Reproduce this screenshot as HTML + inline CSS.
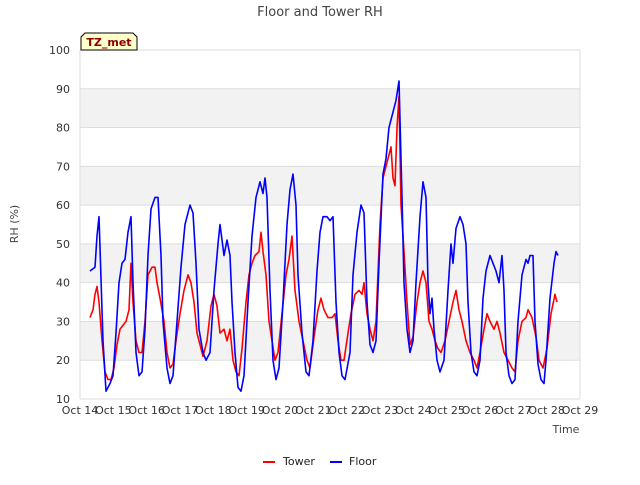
<!DOCTYPE html>
<html><head><meta charset="utf-8"><style>
body{margin:0;background:#fff;font-family:"Liberation Sans","DejaVu Sans",sans-serif}
svg text{font-family:"DejaVu Sans","Liberation Sans",sans-serif}
</style></head><body>
<svg id="c" width="640" height="480">
<text x="320" y="16" text-anchor="middle" font-size="13" fill="#444">Floor and Tower RH</text>
<text transform="translate(18,224) rotate(-90)" text-anchor="middle" font-size="11" fill="#444">RH (%)</text>
<text x="566" y="433" text-anchor="middle" font-size="11" fill="#444">Time</text>
<g id="grid"></g><g id="ticks"></g><g id="series"></g>
<g>
<path d="M81,50 L81,37 L85,33 L133,33 L137,37 L137,50 Z" fill="#ffffcc" stroke="#000"/>
<text x="109" y="46" text-anchor="middle" font-size="11" font-weight="bold" fill="#8b0000">TZ_met</text></g>
<g><line x1="263" y1="462" x2="275" y2="462" stroke="#f00" stroke-width="2"/><text x="283" y="465" font-size="11" fill="#222">Tower</text></g>
<g><line x1="330" y1="462" x2="342" y2="462" stroke="#00f" stroke-width="2"/><text x="349" y="465" font-size="11" fill="#222">Floor</text></g>
</svg>
<script>
const xTickLabels=["Oct 14","Oct 15","Oct 16","Oct 17","Oct 18","Oct 19","Oct 20","Oct 21","Oct 22","Oct 23","Oct 24","Oct 25","Oct 26","Oct 27","Oct 28","Oct 29"];
const yTicks=[10,20,30,40,50,60,70,80,90,100];
const floorT=[.3,.45,.51,.57,.69,.78,.9,.99,1.08,1.17,1.26,1.35,1.44,1.53,1.59,1.68,1.77,1.86,1.95,2.04,2.13,2.25,2.34,2.43,2.49,2.61,2.7,2.79,2.91,3.03,3.15,3.3,3.39,3.48,3.57,3.69,3.78,3.9,4.02,4.14,4.2,4.32,4.41,4.5,4.56,4.65,4.74,4.83,4.92,5.04,5.16,5.28,5.4,5.49,5.55,5.61,5.7,5.79,5.88,5.97,6.09,6.21,6.3,6.39,6.48,6.54,6.66,6.78,6.87,6.99,7.11,7.2,7.29,7.41,7.5,7.59,7.68,7.77,7.86,7.95,8.1,8.19,8.31,8.43,8.52,8.61,8.7,8.79,8.88,8.97,9.09,9.18,9.27,9.36,9.48,9.57,9.66,9.72,9.81,9.9,9.99,10.08,10.2,10.29,10.38,10.44,10.5,10.56,10.62,10.71,10.8,10.92,11.04,11.13,11.19,11.28,11.4,11.49,11.58,11.64,11.73,11.82,11.91,12,12.09,12.18,12.3,12.39,12.48,12.57,12.66,12.72,12.78,12.87,12.96,13.05,13.14,13.26,13.38,13.44,13.5,13.59,13.65,13.74,13.83,13.92,13.98,14.1,14.22,14.28,14.34];
const floorV=[43,44,52,57,25,12,14,16,27,40,45,46,53,57,40,22,16,17,28,47,59,62,62,47,30,18,14,16,30,44,55,60,58,45,28,22,20,22,38,50,55,47,51,47,35,22,13,12,16,35,52,62,66,63,67,62,38,20,15,18,35,55,64,68,60,42,27,17,16,25,43,53,57,57,56,57,35,22,16,15,22,42,53,60,58,35,24,22,25,45,68,72,80,83,87,92,62,40,28,22,25,40,57,66,62,40,32,36,28,20,17,20,38,50,45,54,57,55,50,35,22,17,16,20,36,43,47,45,43,40,47,38,22,16,14,15,30,42,46,45,47,47,30,19,15,14,20,36,45,48,47];
const towerT=[.3,.39,.45,.51,.57,.66,.75,.84,.93,1.02,1.11,1.2,1.29,1.38,1.47,1.53,1.59,1.68,1.77,1.86,1.95,2.04,2.16,2.25,2.31,2.4,2.52,2.61,2.7,2.79,2.88,3,3.12,3.24,3.33,3.42,3.51,3.6,3.69,3.81,3.93,4.02,4.11,4.2,4.32,4.41,4.5,4.59,4.68,4.77,4.86,4.98,5.07,5.16,5.25,5.37,5.43,5.49,5.58,5.67,5.76,5.85,5.94,6.06,6.18,6.27,6.36,6.45,6.57,6.69,6.81,6.9,7.02,7.14,7.23,7.32,7.44,7.56,7.65,7.74,7.83,7.92,8.04,8.13,8.25,8.37,8.46,8.52,8.61,8.7,8.79,8.88,9,9.09,9.18,9.27,9.33,9.39,9.45,9.51,9.57,9.63,9.72,9.81,9.9,9.99,10.11,10.2,10.29,10.38,10.47,10.56,10.65,10.74,10.83,10.95,11.07,11.19,11.28,11.37,11.46,11.58,11.7,11.82,11.91,12,12.12,12.21,12.3,12.42,12.51,12.6,12.72,12.84,12.96,13.05,13.14,13.26,13.38,13.44,13.56,13.68,13.77,13.89,14.01,14.13,14.25,14.31];
const towerV=[31,33,37,39,35,25,17,15,15,18,24,28,29,30,33,45,35,25,22,22,30,42,44,44,40,36,30,22,18,19,25,32,38,42,40,35,27,24,21,25,34,37,34,27,28,25,28,20,17,16,23,35,42,45,47,48,53,48,42,30,25,20,22,32,42,46,52,38,30,25,20,18,26,33,36,33,31,31,32,25,20,20,27,32,37,38,37,40,32,28,25,30,55,67,70,73,75,67,65,80,88,60,48,35,24,26,35,40,43,40,30,28,25,23,22,25,30,35,38,33,30,25,22,20,18,22,28,32,30,28,30,27,22,20,18,17,25,30,31,33,31,26,20,18,23,32,37,35];
const X0=80,X1=580,Y0=399,Y1=50;
const xs=d=>X0+(X1-X0)*d/15, ys=v=>Y0-(Y0-Y1)*(v-10)/90;
const NS="http://www.w3.org/2000/svg";
const grid=document.getElementById('grid'),ticks=document.getElementById('ticks'),ser=document.getElementById('series');
function mk(tag,attrs,parent){const e=document.createElementNS(NS,tag);for(const k in attrs)e.setAttribute(k,attrs[k]);parent.appendChild(e);return e;}
for(let v=20;v<100;v+=20){const b=mk('rect',{x:X0,y:ys(v+10),width:X1-X0,height:ys(v)-ys(v+10),fill:'#f2f2f2'},grid);

}
yTicks.forEach(v=>{const l=mk('line',{x1:X0,x2:X1,y1:ys(v),y2:ys(v),stroke:'#ddd'},grid);


const t=mk('text',{x:X0-10,y:ys(v)+4,'text-anchor':'end','font-size':11,fill:'#333'},ticks);t.textContent=v;

});
[0,15].forEach(d=>{const l=mk('line',{x1:xs(d),x2:xs(d),y1:Y1,y2:Y0,stroke:'#ddd'},grid);

});
xTickLabels.forEach((s,i)=>{
const t=mk('text',{x:xs(i),y:414,'text-anchor':'middle','font-size':11,fill:'#333'},ticks);t.textContent=s;

});
function line(T,V,col,name){const p=mk('path',{d:T.map((t,i)=>(i?'L':'M')+xs(t).toFixed(1)+','+ys(V[i]).toFixed(1)).join(''),fill:'none',stroke:col,'stroke-width':1.6,'stroke-linejoin':'round'},ser);

}
line(towerT,towerV,'#f00','tower-line');
line(floorT,floorV,'#00f','floor-line');
</script>
</body></html>
